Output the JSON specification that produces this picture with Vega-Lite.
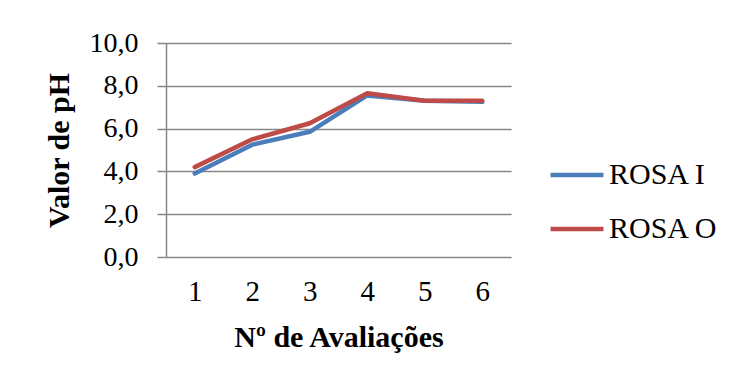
{
  "$schema": "https://vega.github.io/schema/vega-lite/v6.json",
  "autosize": {"type": "none"},
  "width": 345,
  "height": 214,
  "padding": {"left": 166, "top": 43, "right": 228, "bottom": 128},
  "background": "white",
  "config": {
    "view": {"stroke": null},
    "font": "Liberation Serif"
  },
  "data": {
    "values": [
      {"avaliacao": "1", "serie": "ROSA I", "ph": 3.9},
      {"avaliacao": "2", "serie": "ROSA I", "ph": 5.25},
      {"avaliacao": "3", "serie": "ROSA I", "ph": 5.85},
      {"avaliacao": "4", "serie": "ROSA I", "ph": 7.55},
      {"avaliacao": "5", "serie": "ROSA I", "ph": 7.3},
      {"avaliacao": "6", "serie": "ROSA I", "ph": 7.25},
      {"avaliacao": "1", "serie": "ROSA O", "ph": 4.2},
      {"avaliacao": "2", "serie": "ROSA O", "ph": 5.5},
      {"avaliacao": "3", "serie": "ROSA O", "ph": 6.25},
      {"avaliacao": "4", "serie": "ROSA O", "ph": 7.65},
      {"avaliacao": "5", "serie": "ROSA O", "ph": 7.3},
      {"avaliacao": "6", "serie": "ROSA O", "ph": 7.3}
    ]
  },
  "mark": {"type": "line", "strokeWidth": 4.5, "strokeJoin": "round", "strokeCap": "round"},
  "encoding": {
    "x": {
      "field": "avaliacao",
      "type": "ordinal",
      "scale": {"type": "point", "padding": 0.5},
      "axis": {
        "title": "Nº de Avaliações",
        "titleFont": "Liberation Serif",
        "titleFontSize": 30,
        "titleFontWeight": "bold",
        "titleColor": "black",
        "titlePadding": 16,
        "labelAngle": 0,
        "labelFont": "Liberation Serif",
        "labelFontSize": 29,
        "labelColor": "black",
        "labelPadding": 20,
        "domain": false,
        "ticks": false,
        "grid": false
      }
    },
    "y": {
      "field": "ph",
      "type": "quantitative",
      "scale": {"domain": [0, 10], "nice": false, "zero": true},
      "axis": {
        "title": "Valor de pH",
        "titleFont": "Liberation Serif",
        "titleFontSize": 30,
        "titleFontWeight": "bold",
        "titleColor": "black",
        "titlePadding": 15,
        "values": [0, 2, 4, 6, 8, 10],
        "labelExpr": "replace(format(datum.value, '.1f'), '.', ',')",
        "labelFont": "Liberation Serif",
        "labelFontSize": 28,
        "labelColor": "black",
        "labelPadding": 19,
        "tickSize": 9,
        "tickColor": "#868686",
        "tickWidth": 1.5,
        "domainColor": "#868686",
        "domainWidth": 1.5,
        "grid": true,
        "gridColor": "#868686",
        "gridWidth": 1.5,
        "gridOpacity": 1
      }
    },
    "color": {
      "field": "serie",
      "type": "nominal",
      "scale": {"domain": ["ROSA I", "ROSA O"], "range": ["#4A7EBB", "#BE4B48"]},
      "legend": {
        "title": null,
        "orient": "none",
        "legendX": 382,
        "legendY": 103,
        "symbolType": "stroke",
        "symbolSize": 2800,
        "symbolStrokeWidth": 4.5,
        "labelFont": "Liberation Serif",
        "labelFontSize": 30,
        "labelColor": "black",
        "labelOffset": 3,
        "rowPadding": 10
      }
    }
  }
}
